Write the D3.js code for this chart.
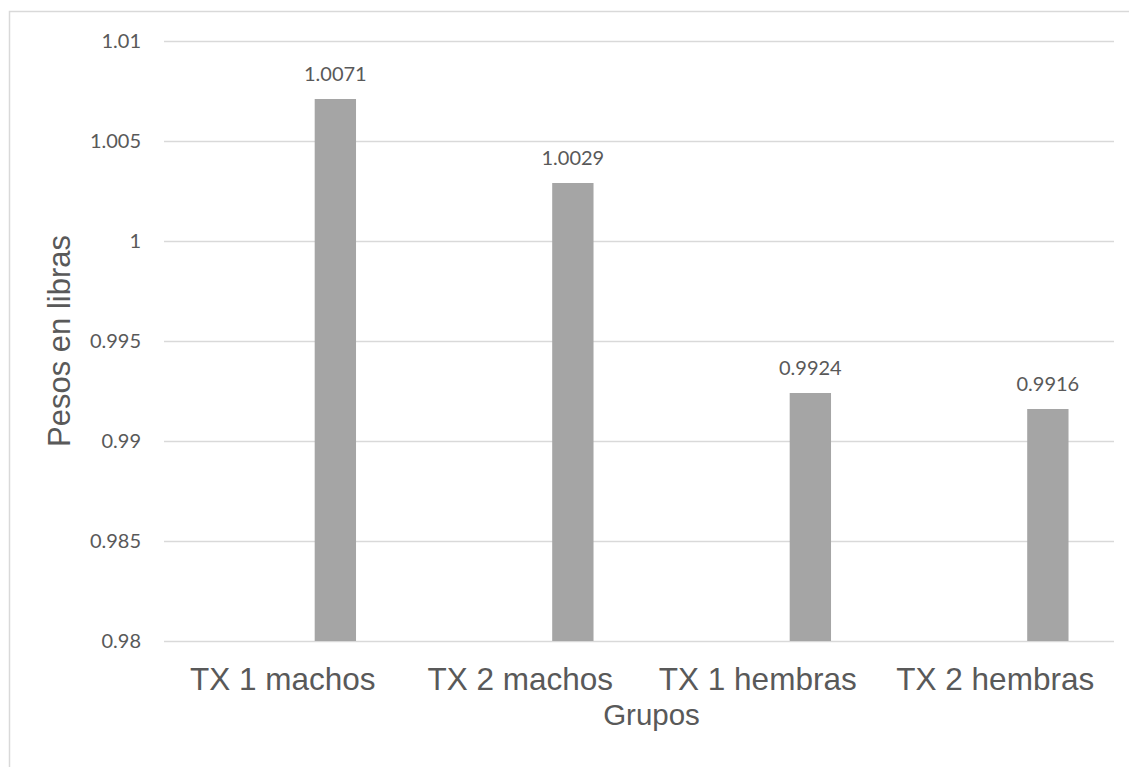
<!DOCTYPE html>
<html>
<head>
<meta charset="utf-8">
<script src="https://cdn.jsdelivr.net/npm/d3@7"></script>
<style>
  html, body { margin: 0; padding: 0; background: #fff; }
  svg { display: block; }
</style>
</head>
<body>
<svg id="chart" width="1129" height="767"></svg>
<script>
// ---- data ----
const categories = ["TX 1 machos", "TX 2 machos", "TX 1 hembras", "TX 2 hembras"];
const values = [1.0071, 1.0029, 0.9924, 0.9916];
const valueLabels = ["1.0071", "1.0029", "0.9924", "0.9916"];
const yTicks = [0.98, 0.985, 0.99, 0.995, 1, 1.005, 1.01];
const yTickLabels = ["0.98", "0.985", "0.99", "0.995", "1", "1.005", "1.01"];
const xTitle = "Grupos";
const yTitle = "Pesos en libras";

// ---- layout ----
const W = 1129, H = 767;
const plot = { left: 164, right: 1114, top: 41, bottom: 641 };
const textColor = "#595959";
const gridColor = "#D9D9D9";
const barColor = "#A5A5A5";

const svg = d3.select("#chart");

// outer chart border
svg.append("rect")
  .attr("x", 9.5).attr("y", 11.5)
  .attr("width", 1300).attr("height", 900)
  .attr("fill", "none").attr("stroke", gridColor).attr("stroke-width", 1.5);

const x = d3.scaleBand().domain(categories).range([plot.left, plot.right]).padding(0);
const y = d3.scaleLinear().domain([0.98, 1.01]).range([plot.bottom, plot.top]);

// gridlines
svg.append("g").selectAll("line").data(yTicks).join("line")
  .attr("x1", plot.left).attr("x2", plot.right)
  .attr("y1", d => Math.round(y(d)) + 0.5).attr("y2", d => Math.round(y(d)) + 0.5)
  .attr("stroke", gridColor).attr("stroke-width", 1.3);

// y tick labels
svg.append("g").selectAll("text").data(yTicks).join("text")
  .attr("x", 141)
  .attr("y", d => y(d) + 7)
  .attr("text-anchor", "end")
  .attr("font-family", "Lato, 'Open Sans', sans-serif")
  .attr("font-size", 20)
  .attr("fill", textColor)
  .text((d, i) => yTickLabels[i]);

// bars (offset inside category band, as in the original)
const barStart = 0.6345, barWidthFrac = 0.174;
const bw = x.bandwidth() * barWidthFrac;
svg.append("g").selectAll("rect").data(values).join("rect")
  .attr("x", (d, i) => x(categories[i]) + x.bandwidth() * barStart)
  .attr("width", bw)
  .attr("y", d => y(d))
  .attr("height", d => y(0.98) - y(d))
  .attr("fill", barColor);

// data labels
svg.append("g").selectAll("text").data(values).join("text")
  .attr("x", (d, i) => x(categories[i]) + x.bandwidth() * barStart + bw / 2)
  .attr("y", d => y(d) - 18.5)
  .attr("text-anchor", "middle")
  .attr("font-family", "Lato, 'Open Sans', sans-serif")
  .attr("font-size", 20)
  .attr("fill", textColor)
  .text((d, i) => valueLabels[i]);

// category labels
svg.append("g").selectAll("text").data(categories).join("text")
  .attr("x", d => x(d) + x.bandwidth() / 2)
  .attr("y", plot.bottom + 49)
  .attr("text-anchor", "middle")
  .attr("font-family", "'Liberation Sans', Arial, sans-serif")
  .attr("font-size", 31.5)
  .attr("fill", textColor)
  .text(d => d);

// x axis title
svg.append("text")
  .attr("x", 651.5).attr("y", 725)
  .attr("text-anchor", "middle")
  .attr("font-family", "'Liberation Sans', Arial, sans-serif")
  .attr("font-size", 29.5)
  .attr("fill", textColor)
  .text(xTitle);

// y axis title
svg.append("text")
  .attr("transform", "translate(70," + ((plot.top + plot.bottom) / 2) + ") rotate(-90)")
  .attr("text-anchor", "middle")
  .attr("font-family", "'Liberation Sans', Arial, sans-serif")
  .attr("font-size", 31)
  .attr("fill", textColor)
  .text(yTitle);
</script>
</body>
</html>
